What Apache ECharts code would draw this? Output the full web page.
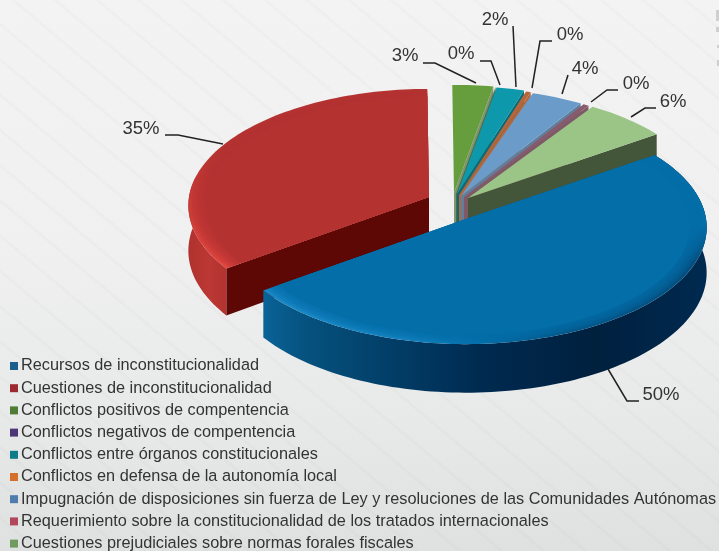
<!DOCTYPE html>
<html><head><meta charset="utf-8">
<style>
html,body{margin:0;padding:0;width:719px;height:551px;overflow:hidden;
background:
 repeating-linear-gradient(40deg,rgba(0,0,0,0) 0 24px,rgba(0,0,0,.014) 24px 27px),
 linear-gradient(180deg,#f3f3f3 0%,#f0f0f0 45%,#e8e9e9 75%,#dfe1e1 100%);}
#c{width:719px;height:551px;filter:blur(.45px);}
</style>
<script src="https://cdn.jsdelivr.net/npm/echarts@6/dist/echarts.min.js"></script>
</head><body><div id="c"></div>
<script>
const categories=["Recursos de inconstitucionalidad","Cuestiones de inconstitucionalidad","Conflictos positivos de compentencia","Conflictos negativos de compentencia","Conflictos entre órganos constitucionales","Conflictos en defensa de la autonomía local","Impugnación de disposiciones sin fuerza de Ley y resoluciones de las Comunidades Autónomas","Requerimiento sobre la constitucionalidad de los tratados internacionales","Cuestiones prejudiciales sobre normas forales fiscales"];
const values=[49.7,34.9,2.93,0.02,2.0,0.35,3.7,0.4,6.0];
const faceColors=["#046ea8","#b43331","#669d3d","#4f6b40","#0e98ab","#b5663a","#6b9cc9","#8a5a6c","#9bc487"];
const cutColors=["#03466f","#5e0806","#7f9470","#4f6b40","#0a6a78","#b5663a","#5f7f9f","#7f5a66","#44563a"];
const legendColors=["#1d5f8c","#9c2a2e","#4f7d35","#4e3778","#0f7a88","#d5702a","#4f7cab","#b0475a","#6f9b5f"];
const apexX=[466,429,454,456,457,459,461,464,468];
const apexY=[219,197,193,194,194,195,196,197,198];
const labelPos=[[661,395],[141,129],[405,56],[461,54],[495,20],[570,35],[585,69],[636,84],[673,102]];
const leaderPts=[[[608,369],[627,401],[639,401]],[[165,135],[178,135],[223,144]],[[423,63],[435,63],[476,83]],[[480,61],[491,61],[500,85]],[[513,26],[516,87]],[[552,41],[540,41],[532,88]],[[568,75],[562,94]],[[618,90],[607,90],[591,102]],[[656,108],[645,108],[631,117]]];
const startAngle=35, R=240, K=116, PERSP=0.073, DEPTH=45;
const drawOrder=[1,2,3,4,5,6,7,8,0];

const total=values.reduce((a,b)=>a+b,0);
const rad=d=>d*Math.PI/180;
function pt(i,t,r,drop){
  const X=r*Math.cos(rad(t)),Y=r*Math.sin(rad(t)),p=1/(1+PERSP*Y);
  return [apexX[i]+R*X*p, apexY[i]-K*Y*p+(drop?DEPTH*p:0)];
}
function arc(i,a,b,r,drop){
  const n=Math.max(2,Math.ceil(Math.abs(a-b)/1.5)),o=[];
  for(let j=0;j<=n;j++)o.push(pt(i,a+(b-a)*j/n,r,drop));
  return o;
}
const LG=(x,y,x2,y2,st)=>new echarts.graphic.LinearGradient(x,y,x2,y2,st.map(s=>({offset:s[0],color:s[1]})),true);
function angles(i){
  let c=0;for(let j=0;j<i;j++)c+=values[j];
  return [startAngle-c/total*360,startAngle-(c+values[i])/total*360];
}
function poly(points,style){return {type:'polygon',shape:{points},style};}
function line(points,lineWidth,stroke){return {type:'polyline',shape:{points},style:{fill:null,lineWidth,stroke}};}
// fades the rim into the flat top face through stacked translucent layers
function softenRim(c,i,t0,t1,rOuter,rInner,steps){
  const a=[apexX[i],apexY[i]];
  for(let k=0;k<steps;k++){
    const r=rOuter-(rOuter-rInner)*k/(steps-1);
    c.push(poly([a].concat(arc(i,t0,t1,r)),{fill:faceColors[i],opacity:.3}));
  }
  c.push(poly([a].concat(arc(i,t0,t1,rInner)),{fill:faceColors[i]}));
}
function renderSlice(i){return function(params,api){
  const v=api.value(0),c=[];
  const [t0,t1]=angles(i);
  const a=[apexX[i],apexY[i]];
  const cutFace=t=>poly([a,pt(i,t,1),pt(i,t,1,true),[a[0],a[1]+DEPTH]],{fill:cutColors[i]});
  if(i===1)c.push(cutFace(t0));
  if(i>1)c.push(cutFace(t1));
  let wa=null;
  if(i===0)wa=[t0,t1];
  else if(i===1)wa=[t0,-190];
  if(wa){
    const top=arc(i,wa[0],wa[1],1),bot=arc(i,wa[0],wa[1],1,true).reverse();
    const fill=i===0?LG(260,0,707,0,[[0,'#0b6499'],[.1,'#05527f'],[.3,'#023d66'],[.5,'#002a50'],[.75,'#00203e'],[1,'#002a50']])
                    :LG(185,0,225,0,[[0,'#ae302d'],[.6,'#bc3834'],[1,'#b23330']]);
    c.push(poly(top.concat(bot),{fill}));
  }
  if(i===0){
    c.push(poly([a].concat(arc(i,t0,t1,1)),{fill:LG(262,0,705,0,[[0,'#1a88c6'],[.32,'#1180bd'],[.5,'#046ea8'],[.68,'#03598c'],[1,'#034f7f']])}));
    c.push(poly([a].concat(arc(i,t0,-25,1)),{fill:LG(0,225,0,262,[[0,'#046ea8'],[1,'rgba(4,110,168,0)']])}));
    softenRim(c,i,t0,t1,.985,.93,5);
  }else if(i===1){
    c.push(poly([a].concat(arc(i,t0,t1,1)),{fill:LG(0,268,0,150,[[0,'#e0443e'],[.45,'#cc3c37'],[1,'#b43331']])}));
    softenRim(c,i,t0,t1,.985,.93,5);
  }else{
    c.push(poly([a].concat(arc(i,t0,t1,1)),{fill:faceColors[i]}));
  }
  c.push(line(leaderPts[i],1.5,'#222'));
  c.push({type:'text',x:labelPos[i][0],y:labelPos[i][1],style:{text:Math.round(v/total*100)+'%',fill:'#333',
    font:'18.5px "Liberation Sans",Arial,sans-serif',textAlign:'center',textVerticalAlign:'middle'}});
  return {type:'group',children:c};
};}
const series=drawOrder.map(i=>({type:'custom',name:categories[i],coordinateSystem:'none',clip:false,silent:true,animation:false,
  itemStyle:{color:legendColors[i]},data:[[values[i]]],renderItem:renderSlice(i)}));
const chart=echarts.init(document.getElementById('c'),null,{renderer:'canvas'});
chart.setOption({
  animation:false,
  backgroundColor:'transparent',
  graphic:[[716,10,3,11],[716,27,3,5],[717,45,2,3],[717,60,2,6]].map(r=>({type:'rect',shape:{x:r[0],y:r[1],width:r[2],height:r[3]},style:{fill:'#cfcfcf'},silent:true})),
  legend:{orient:'vertical',left:10,top:357,height:260,padding:0,itemWidth:8,itemHeight:8,itemGap:4.2,icon:'rect',selectedMode:false,
    textStyle:{color:'#333',fontSize:16.3,fontFamily:'"Liberation Sans",Arial,sans-serif',lineHeight:18,padding:[0,0,0,-2]},
    data:categories.map((n,i)=>({name:n,itemStyle:{color:legendColors[i]}}))},
  series
});
</script></body></html>
